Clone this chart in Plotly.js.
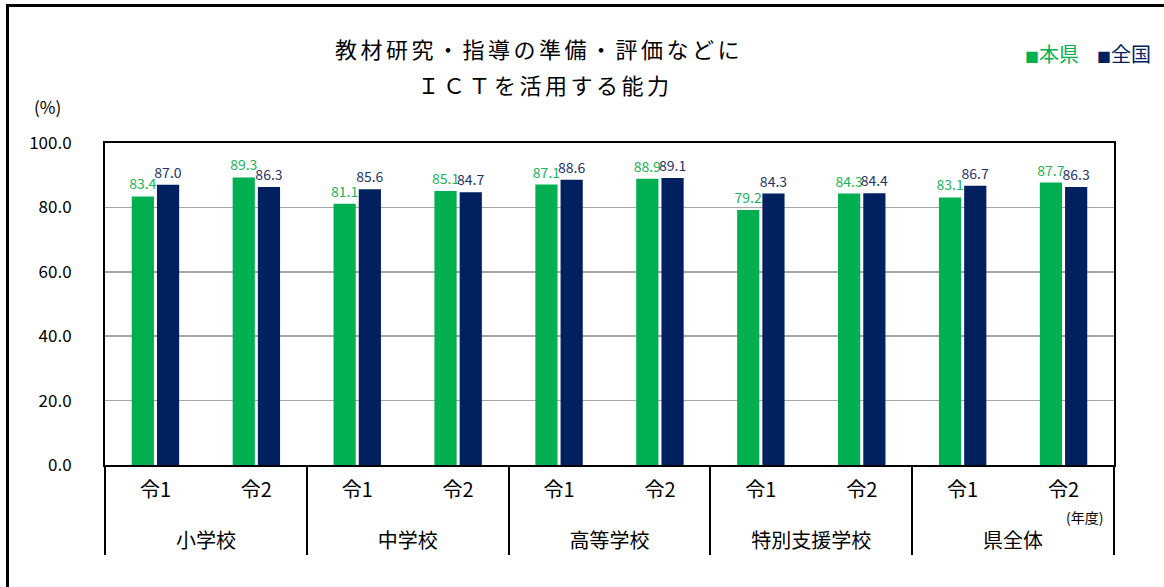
<!DOCTYPE html>
<html>
<head>
<meta charset="utf-8">
<script src="https://cdn.plot.ly/plotly-3.0.1.min.js"></script>
<style>
  html, body { margin: 0; padding: 0; background: #fff; }
  #wrap { position: relative; width: 1164px; height: 587px; overflow: hidden; }
  #chart { position: absolute; left: 0; top: 0; width: 1164px; height: 587px; }
  #frame { position: absolute; left: 6px; top: 4px; width: 1170px; height: 600px;
           border-left: 3px solid #000; border-top: 3px solid #000; pointer-events: none; }
  .annotation[data-index="0"] text, .annotation[data-index="1"] text { letter-spacing: 3.5px; }
</style>
</head>
<body>
<div id="wrap">
  <div id="chart"></div>
  <div id="frame"></div>
</div>
<script>
// ---- data ----
const groups = ["小学校", "小学校", "中学校", "中学校", "高等学校", "高等学校", "特別支援学校", "特別支援学校", "県全体", "県全体"];
const years = ["令1", "令2", "令1", "令2", "令1", "令2", "令1", "令2", "令1", "令2"];
const prefValues = [83.4, 89.3, 81.1, 85.1, 87.1, 88.9, 79.2, 84.3, 83.1, 87.7];
const nationValues = [87.0, 86.3, 85.6, 84.7, 88.6, 89.1, 84.3, 84.4, 86.7, 86.3];
const seriesNames = ["本県", "全国"];
const yTicks = [0, 20, 40, 60, 80, 100];
const titleLines = ["教材研究・指導の準備・評価などに", "ＩＣＴを活用する能力"];
const yUnit = "(%)";
const xUnit = "(年度)";

const GREEN = "#00b050";
const NAVY = "#002060";
const FONT = "'Noto Sans CJK JP', 'Noto Sans', sans-serif";

// outer labels are pushed one line down to leave room like the reference table
const xCats = [groups.map(g => "<br>" + g), years];

const traces = [
  {
    type: "bar", name: seriesNames[0],
    x: xCats, y: prefValues,
    marker: { color: GREEN },
    text: prefValues.map(v => v.toFixed(1)), textposition: "outside", constraintext: "none",
    textfont: { color: "#22b35a", size: 14, family: FONT },
    cliponaxis: false, hoverinfo: "skip", showlegend: false
  },
  {
    type: "bar", name: seriesNames[1],
    x: xCats, y: nationValues,
    marker: { color: NAVY },
    text: nationValues.map(v => v.toFixed(1)), textposition: "outside", constraintext: "none",
    textfont: { color: "#1f3468", size: 14, family: FONT },
    cliponaxis: false, hoverinfo: "skip", showlegend: false
  }
];

const legendText =
  '<span style="color:' + GREEN + '"><span style="font-size:14px">■</span>' + seriesNames[0] + '</span>' +
  '&nbsp;&nbsp;&nbsp;&nbsp;<span style="color:' + NAVY + '"><span style="font-size:14px">■</span>' + seriesNames[1] + '</span>';

const layout = {
  width: 1164, height: 587,
  margin: { l: 105, r: 50, t: 143, b: 122 },
  paper_bgcolor: "#fff", plot_bgcolor: "#fff",
  font: { family: FONT, color: "#000", size: 17 },
  barmode: "group", bargap: 0.5, bargroupgap: 0.12,
  showlegend: false,
  xaxis: {
    type: "multicategory",
    showline: true, linecolor: "#000", linewidth: 2, mirror: true,
    showdividers: true, dividercolor: "#000", dividerwidth: 2,
    tickfont: { size: 20, family: FONT, color: "#000" },
    ticks: "", ticklabelstandoff: 6,
    showgrid: false, fixedrange: true
  },
  yaxis: {
    range: [0, 100], tickvals: yTicks, tickformat: ".1f",
    showline: true, linecolor: "#000", linewidth: 2, mirror: true,
    showgrid: true, gridcolor: "#a6a6a6", gridwidth: 1.5,
    zeroline: false, ticks: "", ticklabelstandoff: 28,
    tickfont: { size: 17, family: FONT, color: "#000" }, fixedrange: true
  },
  annotations: [
    { text: titleLines[0], xref: "paper", yref: "paper",
      x: 0.430, y: 1.295, xanchor: "center", yanchor: "middle", showarrow: false,
      font: { size: 22, family: FONT, color: "#000" } },
    { text: titleLines[1], xref: "paper", yref: "paper",
      x: 0.436, y: 1.183, xanchor: "center", yanchor: "middle", showarrow: false,
      font: { size: 22, family: FONT, color: "#000" } },
    { text: yUnit, xref: "paper", yref: "paper", x: -0.0565, y: 1.112, xanchor: "center", yanchor: "middle",
      showarrow: false, font: { size: 17, family: FONT, color: "#000" } },
    { text: xUnit, xref: "paper", yref: "paper", x: 0.971, y: -0.161, xanchor: "center", yanchor: "middle",
      showarrow: false, font: { size: 14, family: FONT, color: "#000" } },
    { text: legendText, xref: "paper", yref: "paper", x: 1.0387, y: 1.2795, xanchor: "right", yanchor: "middle",
      showarrow: false, font: { size: 20, family: FONT } }
  ]
};

Plotly.newPlot("chart", traces, layout, { displayModeBar: false, staticPlot: true });
</script>
</body>
</html>
